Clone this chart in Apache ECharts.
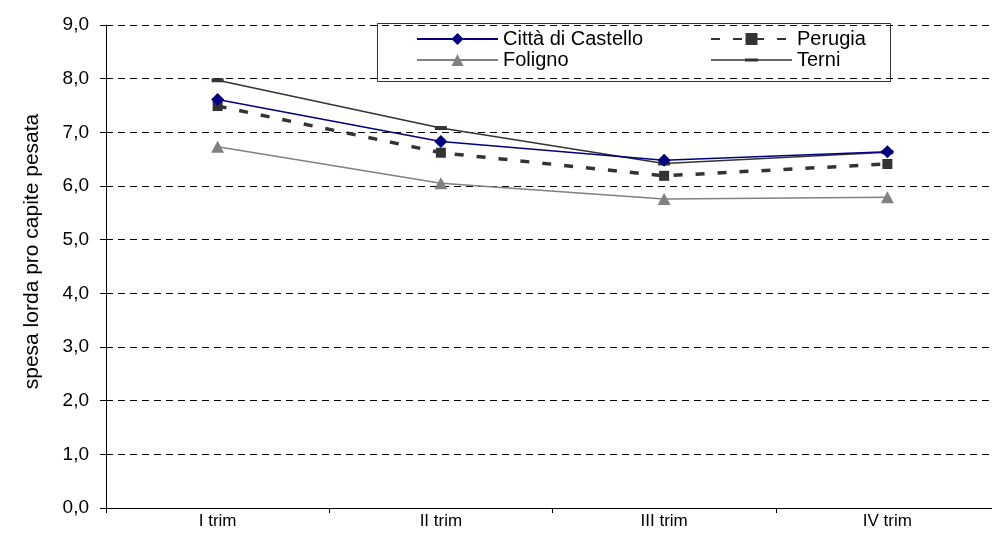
<!DOCTYPE html>
<html>
<head>
<meta charset="utf-8">
<script src="https://cdn.jsdelivr.net/npm/echarts@6/dist/echarts.min.js"></script>
<style>html,body{margin:0;padding:0;background:#fff}#c{width:992px;height:548px}</style>
</head>
<body>
<div id="c"></div>
<script>
const categories = ['I trim', 'II trim', 'III trim', 'IV trim'];
const cittaDiCastello = [7.61, 6.83, 6.48, 6.64];
const perugia = [7.49, 6.62, 6.19, 6.41];
const foligno = [6.73, 6.05, 5.76, 5.79];
const terni = [7.97, 7.08, 6.42, 6.63];
const yTicks = [0, 1, 2, 3, 4, 5, 6, 7, 8, 9];

const FONT = 'Liberation Sans, Arial, sans-serif';
const chart = echarts.init(document.getElementById('c'), null, {renderer: 'canvas'});
const legendText = {color: '#000', fontFamily: FONT, fontSize: 20, lineHeight: 20};
const terniIcon = 'path://M0,0 L0.01,0 L0,0.01 Z M81,14 L80.99,14 L81,13.99 Z M0,6.3 L34,6.3 L34,5.5 L47,5.5 L47,6.3 L81,6.3 L81,7.7 L47,7.7 L47,8.5 L34,8.5 L34,7.7 L0,7.7 Z';
chart.setOption({
  animation: false,
  backgroundColor: '#ffffff',
  grid: {left: 106, top: 25, height: 483, width: 893, containLabel: false, outerBoundsMode: 'none'},
  xAxis: {
    type: 'category',
    data: categories,
    boundaryGap: true,
    axisLine: {lineStyle: {color: '#000', width: 1}},
    axisTick: {show: true, length: 5, lineStyle: {color: '#000'}},
    axisLabel: {color: '#000', fontFamily: FONT, fontSize: 17, margin: 5},
    splitLine: {show: false}
  },
  yAxis: {
    type: 'value',
    min: yTicks[0], max: yTicks[yTicks.length - 1], interval: 1,
    name: 'spesa lorda pro capite pesata',
    nameLocation: 'middle',
    nameGap: 63,
    nameRotate: 90,
    nameTextStyle: {color: '#000', fontFamily: FONT, fontSize: 21, padding: [0, 0, 0, 30]},
    axisLine: {show: true, lineStyle: {color: '#000', width: 1}},
    axisTick: {show: true, length: 6, lineStyle: {color: '#000'}},
    axisLabel: {color: '#000', fontFamily: FONT, fontSize: 19, margin: 17,
      formatter: v => v.toFixed(1).replace('.', ',')},
    splitLine: {show: true, lineStyle: {color: '#000', type: [7, 5], width: 1}}
  },
  legend: [
    {
      orient: 'vertical', left: 411, top: 24, itemWidth: 81, itemHeight: 15, itemGap: 1,
      data: ['Città di Castello', 'Foligno'],
      textStyle: legendText,
      selectedMode: false
    },
    {
      orient: 'vertical', left: 705, top: 24, itemWidth: 81, itemHeight: 15, itemGap: 1,
      data: ['Perugia', {name: 'Terni', icon: terniIcon}],
      textStyle: legendText,
      selectedMode: false
    }
  ],
  graphic: [{
    type: 'rect', shape: {x: 377.5, y: 23.5, width: 513, height: 58},
    style: {fill: '#fff', stroke: '#333', lineWidth: 1}, z: 0, silent: true
  }],
  series: [
    {
      name: 'Terni', type: 'line', data: terni, z: 3,
      symbol: 'rect', symbolSize: [12, 4], showAllSymbol: true,
      itemStyle: {color: '#333333'},
      lineStyle: {color: '#333333', width: 1.5}
    },
    {
      name: 'Foligno', type: 'line', data: foligno, z: 3,
      symbol: 'triangle', symbolSize: [13, 12],
      itemStyle: {color: '#808080'},
      lineStyle: {color: '#808080', width: 1.5}
    },
    {
      name: 'Perugia', type: 'line', data: perugia, z: 4,
      symbol: 'rect', symbolSize: 10,
      itemStyle: {color: '#333333'},
      lineStyle: {color: '#333333', width: 3.5, type: [9, 13]}
    },
    {
      name: 'Città di Castello', type: 'line', data: cittaDiCastello, z: 5,
      symbol: 'diamond', symbolSize: [13, 13],
      itemStyle: {color: '#000080'},
      lineStyle: {color: '#000080', width: 1.5}
    }
  ]
});
</script>
</body>
</html>
